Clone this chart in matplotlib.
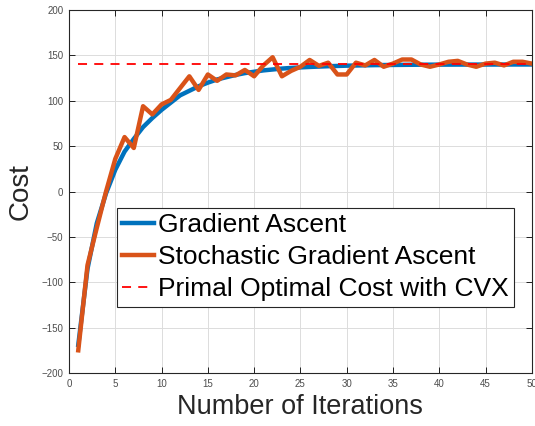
import matplotlib
matplotlib.use('Agg')
import matplotlib.pyplot as plt

plt.rcParams['font.family'] = ['Liberation Sans', 'DejaVu Sans']

# cost per iteration
iterations = list(range(1, 51))
gradient_ascent = [-169, -85, -35, -2, 24, 44, 58, 71, 81, 90,
                   98, 106, 111, 116, 120, 123.5, 126, 128.5, 130.5, 132,
                   133.5, 134.5, 135.5, 136.2, 136.8, 137.3, 137.7, 138.1, 138.4, 138.7,
                   138.9, 139.1, 139.3, 139.4, 139.5, 139.6, 139.7, 139.75, 139.8, 139.85,
                   139.85, 139.9, 139.9, 139.9, 139.95, 139.95, 139.95, 140, 140, 140]
stochastic_ascent = [-175, -81, -40, 0, 36, 60, 48, 94, 85, 96,
                     101, 114, 127, 112, 129, 122, 129, 128, 134, 127,
                     139, 148, 127, 133, 137.5, 145, 138.5, 142, 129, 129,
                     142, 139, 145, 137.5, 141, 145.5, 145.5, 140, 137.5, 140,
                     143, 144, 140, 137.5, 141, 142, 139, 143, 143, 141]
cvx_cost = 140

blue = '#0072BD'
orange = '#D95319'

fig = plt.figure(figsize=(5.35, 4.26), dpi=100)
ax = fig.add_axes([0.129, 0.1244, 0.865, 0.852])

ax.plot(iterations, gradient_ascent, color=blue, lw=3.2, label='Gradient Ascent')
ax.plot(iterations, stochastic_ascent, color=orange, lw=3.2, label='Stochastic Gradient Ascent')
ax.plot([iterations[0], iterations[-1]], [cvx_cost, cvx_cost], color='#ff0000', lw=1.3,
        ls=(0, (5, 4)), label='Primal Optimal Cost with CVX')

ax.set_xlim(0, 50)
ax.set_ylim(-200, 200)
ax.set_xticks(range(0, 51, 5))
ax.set_yticks(range(-200, 201, 50))
ax.grid(True, color='#dcdcdc', lw=0.7)
ax.set_axisbelow(True)
ax.tick_params(direction='in', top=True, right=True, length=4, width=0.6,
               labelsize=7, labelcolor='#4d4d4d', pad=4)
for s in ax.spines.values():
    s.set_linewidth(0.8)
    s.set_color('#262626')

ax.set_xlabel('Number of Iterations', fontsize=19.5, color='#262626', labelpad=4)
ax.set_ylabel('Cost', fontsize=20, color='#262626', labelpad=6)

leg = ax.legend(loc='lower left', bbox_to_anchor=(0.104, 0.183), borderaxespad=0,
                fontsize=19, labelspacing=0.3, handlelength=1.2, handletextpad=0.15,
                borderpad=0.2, fancybox=False, framealpha=1, edgecolor='#262626')
leg.get_frame().set_linewidth(0.8)

fig.savefig('out.png', dpi=100)
